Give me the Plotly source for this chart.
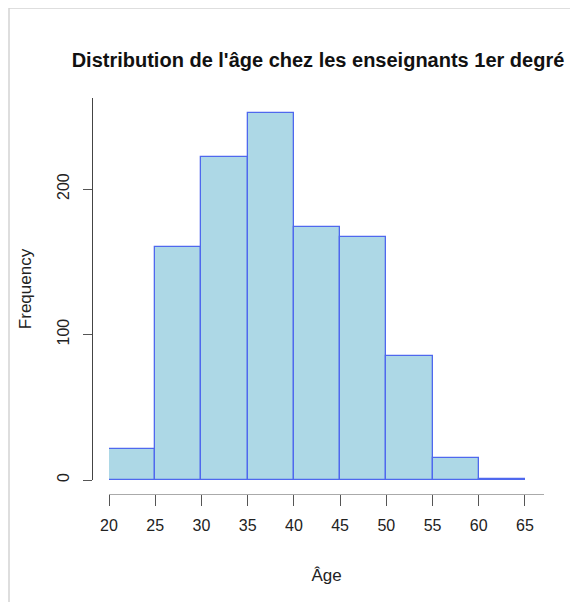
import plotly.graph_objects as go

# Data
bin_edges = [20, 25, 30, 35, 40, 45, 50, 55, 60, 65]
counts = [21, 160, 222, 252, 174, 167, 85, 15, 1]
x_ticks = [20, 25, 30, 35, 40, 45, 50, 55, 60, 65]
y_ticks = [0, 100, 200]

centers = [(a + b) / 2 for a, b in zip(bin_edges[:-1], bin_edges[1:])]
widths = [b - a for a, b in zip(bin_edges[:-1], bin_edges[1:])]

OFF = 8  # browser body margin
W, H = 578 - OFF, 602 - OFF
# reference pixel positions of plot frame
REF_LEFT, REF_RIGHT, REF_TOP, REF_BOTTOM = 92, 544, 98, 494
L = REF_LEFT - OFF
R = 578 - REF_RIGHT
T = REF_TOP - OFF
B = 602 - REF_BOTTOM
pw = W - L - R
ph = H - T - B

def px_x(px):
    return (px - REF_LEFT) / pw

def px_y(py):
    return (REF_BOTTOM - py) / ph

fig = go.Figure()
fig.add_trace(go.Bar(
    x=centers, y=counts, width=widths,
    marker=dict(color="#ADD8E6", line=dict(color="#4F68EE", width=1.3)),
    cliponaxis=False,
    hoverinfo="x+y",
))

font_family = "Liberation Sans, Arial, sans-serif"

fig.update_layout(
    width=W, height=H,
    margin=dict(l=L, r=R, t=T, b=B),
    paper_bgcolor="white", plot_bgcolor="white",
    showlegend=False,
    bargap=0,
    font=dict(family=font_family, size=16, color="#222"),
    title=dict(
        text="<b>Distribution de l'âge chez les enseignants 1er degré</b>",
        x=0.5, xref="paper", xanchor="center",
        y=1 - (60 - OFF) / H, yref="container", yanchor="middle",
        font=dict(size=20, color="#111", family=font_family),
    ),
    xaxis=dict(
        domain=[px_x(109), 1],
        range=[20, 20 + (544 - 109) / 9.244],
        anchor="free", position=0,
        showline=True, linecolor="#aaaaaa", linewidth=1.3,
        ticks="outside", ticklen=11, tickcolor="#555", tickwidth=1,
        tickvals=x_ticks, ticktext=[str(v) for v in x_ticks],
        ticklabelstandoff=6,
        tickfont=dict(size=16, color="#222"),
        showgrid=False, zeroline=False,
        title=dict(text="Âge", font=dict(size=17, color="#222"), standoff=35),
    ),
    yaxis=dict(
        domain=[px_y(480), 1],
        range=[0, (480 - 98) / 1.455],
        anchor="free", position=0,
        showline=True, linecolor="#444", linewidth=1,
        ticks="outside", ticklen=9, tickcolor="#555", tickwidth=1,
        tickvals=y_ticks, ticktext=[str(v) for v in y_ticks],
        tickangle=-90,
        ticklabelstandoff=8,
        tickfont=dict(size=16, color="#222"),
        showgrid=False, zeroline=False,
        title=dict(text="Frequency", font=dict(size=17, color="#222"), standoff=17),
    ),
    shapes=[dict(
        type="rect", xref="paper", yref="paper",
        x0=px_x(9), x1=px_x(600), y0=px_y(625), y1=px_y(8),
        line=dict(color="#d4d4d4", width=1.5), fillcolor="rgba(0,0,0,0)",
        layer="below",
    )],
)

fig.write_html("out.html")
